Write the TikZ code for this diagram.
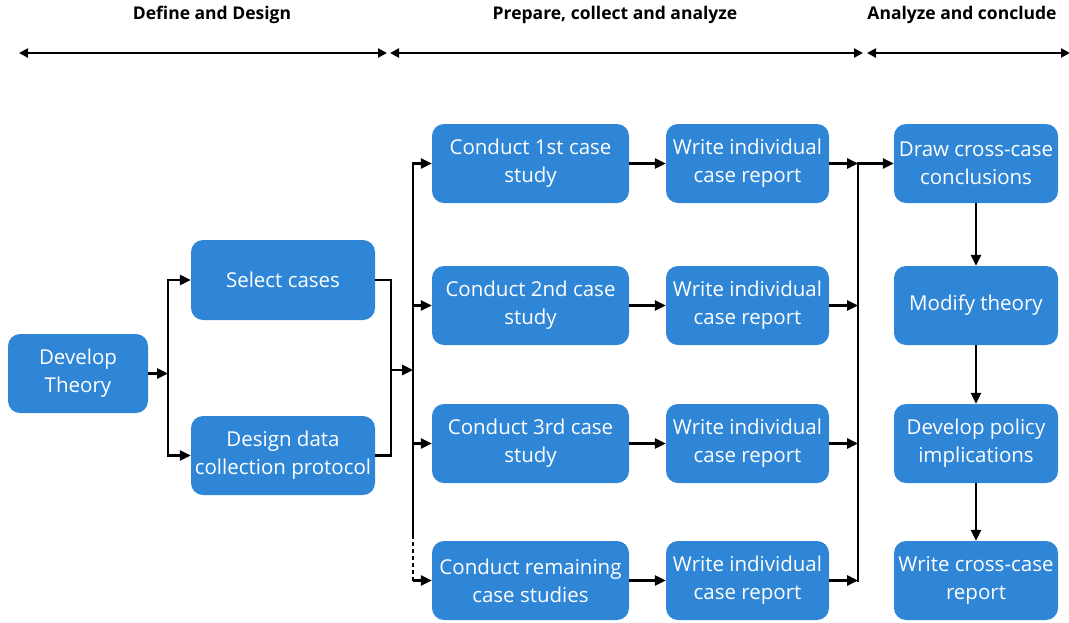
\documentclass[tikz,border=0pt]{standalone}
\usepackage{fontspec}
\setmainfont{Open Sans}
\usetikzlibrary{arrows.meta}
\definecolor{boxblue}{HTML}{2F86D6}
\tikzset{
  box/.style={fill=boxblue, rounded corners=12pt, text=white, align=center, inner sep=0pt,
    font=\fontsize{20.5}{28}\selectfont},
  conn/.style={line width=2.6pt, -{Triangle[length=11pt,width=10pt]}},
  line/.style={line width=2.6pt},
  phase/.style={line width=2.6pt, {Triangle[length=9pt,width=9pt]}-{Triangle[length=9pt,width=9pt]}},
  head/.style={font=\fontsize{17.5}{20}\bfseries\selectfont}
}
\begin{document}
\begin{tikzpicture}[x=1pt,y=-1pt]
\useasboundingbox (0,0) rectangle (1069,622);
% headings
\node[head] (h1) at (212,15) {Define and Design};
\node[head] (h2) at (615,15) {Prepare, collect and analyze};
\node[head] (h3) at (962,15) {Analyze and conclude};
\coordinate (a1) at (19,53); \coordinate (a2) at (387,53);
\coordinate (b1) at (390,53); \coordinate (b2) at (863,53);
\coordinate (c1) at (867,53); \coordinate (c2) at (1070,53);
\draw[phase] (a1) -- (a2);
\draw[phase] (b1) -- (b2);
\draw[phase] (c1) -- (c2);
% boxes
\node[box, minimum width=140pt, minimum height=79pt] (dt) at (78,373.5) {Develop\\Theory};
\node[box, minimum width=184pt, minimum height=80pt] (sc) at (283,280) {Select cases};
\node[box, minimum width=184pt, minimum height=79pt] (dd) at (283,455.5) {Design data\\collection protocol};
\foreach \n/\y/\t in {c1/163.5/{Conduct 1st case\\study}, c2/305.5/{Conduct 2nd case\\study}, c3/443.5/{Conduct 3rd case\\study}, c4/580.5/{Conduct remaining\\case studies}}{
  \node[box, minimum width=197pt, minimum height=79pt] (\n) at (530.5,\y) {\t};
}
\foreach \n/\y in {w1/163.5, w2/305.5, w3/443.5, w4/580.5}{
  \node[box, minimum width=163pt, minimum height=79pt] (\n) at (747.5,\y) {Write individual\\case report};
}
\node[box, minimum width=164pt, minimum height=79pt] (r1) at (976,163.5) {Draw cross-case\\conclusions};
\node[box, minimum width=164pt, minimum height=79pt] (r2) at (976,305.5) {Modify theory};
\node[box, minimum width=164pt, minimum height=79pt] (r3) at (976,443.5) {Develop policy\\implications};
\node[box, minimum width=164pt, minimum height=79pt] (r4) at (976,580.5) {Write cross-case\\report};
% left connectors
\coordinate (j1) at (168,373.5);
\draw[conn] (dt.east) -- (j1);
\draw[conn] (168,280) -- (sc.west);
\draw[conn] (168,455.5) -- (dd.west);
\draw[line] (168,278.7) -- (168,456.8);
\coordinate (j2) at (391,370);
\coordinate (bus) at (413,370);
\draw[line] (sc.east) -- (391,280) -- (391,455.5) -- (dd.east);
\draw[conn] (j2) -- (bus);
% bus to conduct
\draw[line] (413,162.2) -- (413,535);
\draw[line, dash pattern=on 4pt off 3pt] (413,535) -- (413,580.5);
\draw[conn] (413,163.5) -- (c1.west);
\draw[conn] (413,305.5) -- (c2.west);
\draw[conn] (413,443.5) -- (c3.west);
\draw[conn] (413,580.5) -- (c4.west);
% conduct to write
\foreach \i in {1,2,3,4}{ \draw[conn] (c\i.east) -- (w\i.west); }
% write to right bus
\draw[line] (858,162.2) -- (858,581.8);
\draw[conn] (w1.east) -- (858,163.5);
\draw[conn] (w2.east) -- (858,305.5);
\draw[conn] (w3.east) -- (858,443.5);
\draw[conn] (w4.east) -- (858,580.5);
\draw[conn] (858,163.5) -- (r1.west);
% right column
\draw[conn] (r1.south) -- (r2.north);
\draw[conn] (r2.south) -- (r3.north);
\draw[conn] (r3.south) -- (r4.north);
\end{tikzpicture}
\end{document}
